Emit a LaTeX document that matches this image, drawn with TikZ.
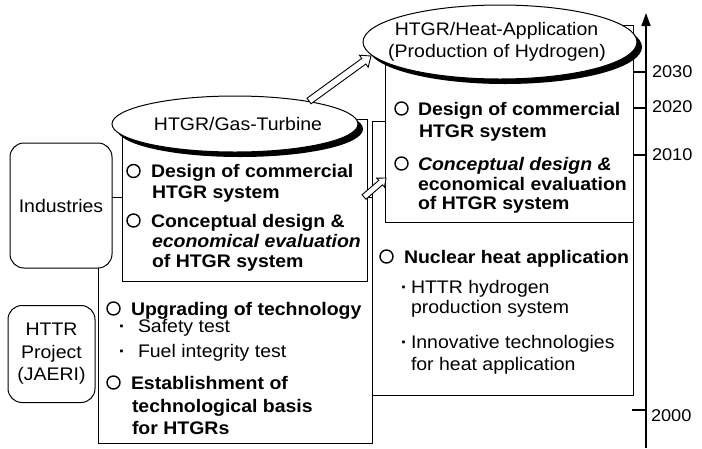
\documentclass[tikz,border=0pt]{standalone}
\usepackage{fontspec}
\setmainfont[FakeStretch=1.07]{Liberation Sans}
\usetikzlibrary{shapes.geometric,shapes.arrows,calc,arrows.meta}

\begin{document}
\begin{tikzpicture}[x=1pt,y=-1pt,
  every node/.style={inner sep=0pt, outer sep=0pt},
  txt/.style={anchor=base west, font=\fontsize{18.2}{20}\selectfont},
  btxt/.style={anchor=base west, font=\fontsize{18.2}{20}\selectfont\bfseries},
  bitxt/.style={anchor=base west, font=\fontsize{18.2}{20}\selectfont\bfseries\itshape},
  ctxt/.style={anchor=base, font=\fontsize{18.2}{20}\selectfont},
  dot/.style={anchor=base, font=\fontsize{18.2}{20}\selectfont\bfseries},
  yr/.style={anchor=west, font=\fontsize{17}{20}\selectfont},
  frame/.style={draw, line width=1pt, fill=white, anchor=north west},
  roundbox/.style={draw, line width=1pt, fill=white, rounded corners=14pt,
    align=center, font=\fontsize{18.2}{22.5}\selectfont},
  ell/.style={ellipse, draw, line width=1pt, fill=white},
  ellshadow/.style={ellipse, fill=black},
  bul/.style={circle, draw, line width=1.4pt, minimum size=13pt},
  hollowarrow/.style={single arrow, draw, line width=0.9pt, fill=white,
    inner xsep=0pt, inner ysep=3pt, single arrow head extend=4pt,
    single arrow tip angle=80, anchor=tail},
  tick/.style={line width=1.3pt}
]
\useasboundingbox (0,0) rectangle (702,448);

% frames (back to front)
\node[frame, minimum width=274pt, minimum height=246pt] (jaeri) at (98,197) {};
\node[frame, minimum width=261pt, minimum height=274pt] (nuc) at (372,121) {};
\node[frame, minimum width=245pt, minimum height=162pt] (gtbox) at (122,119) {};
\node[frame, minimum width=248pt, minimum height=197pt] (habox) at (385,25) {};

% organisations
\node[roundbox, minimum width=102pt, minimum height=125pt] (ind) at (61,205.5) {Industries};
\node[roundbox, minimum width=87pt, minimum height=97pt] (httr) at (51.5,354) {HTTR\\Project\\(JAERI)};

% headline ellipses, each with a solid offset shadow
\node[ellshadow, minimum width=246pt, minimum height=56pt] (gtsh) at (240,129) {};
\node[ell, minimum width=246pt, minimum height=56pt] (gt) at (235,124) {};
\node[ctxt] (gtlabel) at (238,130) {HTGR/Gas-Turbine};
\node[ellshadow, minimum width=274pt, minimum height=74pt] (hash) at (505,47) {};
\node[ell, minimum width=274pt, minimum height=74pt] (ha) at (500,42) {};
\node[ctxt] (halabel1) at (496.5,35) {HTGR/Heat-Application};
\node[ctxt] (halabel2) at (497,57) {(Production of Hydrogen)};

% hollow arrows
\coordinate (a1s) at (309,101);
\coordinate (a1e) at (371,56);
\coordinate (a2s) at (364,197);
\coordinate (a2e) at (386,178);
\path let \p1=($(a1e)-(a1s)$), \n1={atan2(\y1,\x1)}, \n2={veclen(\x1,\y1)} in
  node[hollowarrow, minimum height=\n2, rotate=\n1] (arr1) at (a1s) {};
\path let \p1=($(a2e)-(a2s)$), \n1={atan2(\y1,\x1)}, \n2={veclen(\x1,\y1)} in
  node[hollowarrow, inner ysep=2.5pt, single arrow head extend=3pt, minimum height=\n2, rotate=\n1] (arr2) at (a2s) {};

% gas-turbine items
\node[bul] (gb1) at (133.5,171) {};
\node[btxt] at (151,177) {Design of commercial};
\node[btxt] at (152,198) {HTGR system};
\node[bul] (gb2) at (133.5,220.5) {};
\node[btxt] at (151,227) {Conceptual design \&};
\node[bitxt] at (152,247) {economical evaluation};
\node[btxt] at (152,267) {of HTGR system};

% heat-application items
\node[bul] (hb1) at (401.5,108.5) {};
\node[btxt] at (418,115) {Design of commercial};
\node[btxt] at (419,137) {HTGR system};
\node[bul] (hb2) at (401.5,163.5) {};
\node[bitxt] at (418,170) {Conceptual design \&};
\node[btxt] at (418,190) {economical evaluation};
\node[btxt] at (418,209) {of HTGR system};

% nuclear heat application
\node[bul] (nb1) at (386.5,256.5) {};
\node[btxt] at (404,263) {Nuclear heat application};
\node[dot] at (404,293) {·};
\node[txt] at (411,293) {HTTR hydrogen};
\node[txt] at (411,313) {production system};
\node[dot] at (404,348) {·};
\node[txt] at (411,348) {Innovative technologies};
\node[txt] at (411,370) {for heat application};

% HTTR project items
\node[bul] (jb1) at (113.5,308.5) {};
\node[btxt] at (131,315) {Upgrading of technology};
\node[dot] at (122,332) {·};
\node[txt] at (138,332) {Safety test};
\node[dot] at (122,357) {·};
\node[txt] at (138,357) {Fuel integrity test};
\node[bul] (jb2) at (113.5,382.5) {};
\node[btxt] at (131,389) {Establishment of};
\node[btxt] at (132,412) {technological basis};
\node[btxt] at (132,434) {for HTGRs};

% time axis
\coordinate (axb) at (646,448);
\coordinate (axt) at (646,13);
\draw[line width=1.6pt, -{Triangle[length=13pt,width=9pt]}] (axb) -- (axt);
\draw[tick] (633,72) -- (646,72);
\node[yr] (y2030) at (652,72) {2030};
\draw[tick] (633,108) -- (646,108);
\node[yr] (y2020) at (652,107) {2020};
\draw[tick] (633,155) -- (646,155);
\node[yr] (y2010) at (652,155) {2010};
\draw[tick] (632,410) -- (646,410);
\node[yr] (y2000) at (651,416) {2000};
\end{tikzpicture}
\end{document}
